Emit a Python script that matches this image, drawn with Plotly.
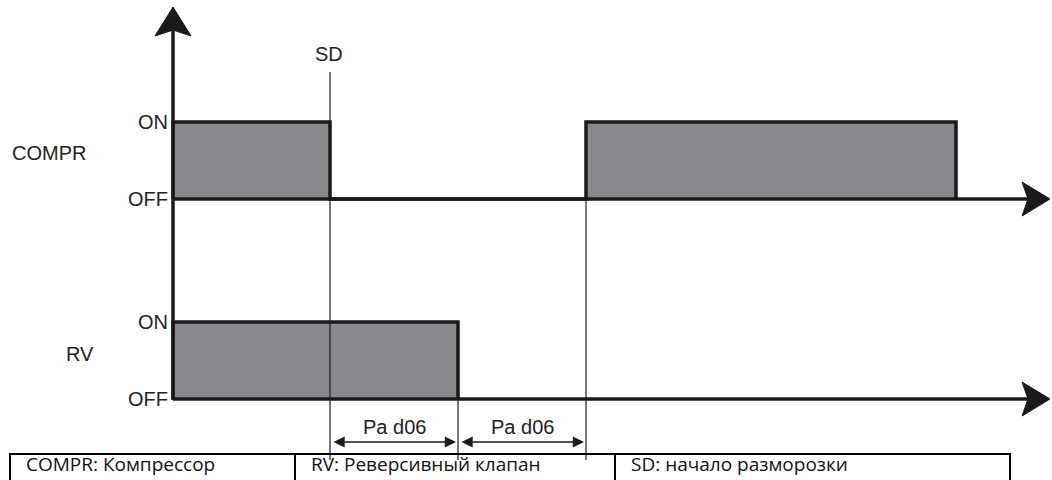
import plotly.graph_objects as go

# ---- data (time units ~ pixels, origin at the vertical axis) ----
channels = ["COMPR", "RV"]
compr_on_intervals = [(0, 157), (413, 783)]   # COMPR ON periods
rv_on_intervals = [(0, 285)]                  # RV ON periods
sd_time = 157                                 # defrost start
rv_off_time = 285
compr_restart_time = 413
time_end = 877
level_labels = ["ON", "OFF"]
delay_label = "Pa d06"
delay_spans = [(sd_time, rv_off_time), (rv_off_time, compr_restart_time)]
legend_texts = ["COMPR: Компрессор", "RV: Реверсивный клапан", "SD: начало разморозки"]

# ---- layout constants (pixels) ----
X0 = 173                # pixel x of time 0
base_y = {"COMPR": 199, "RV": 399}
amp = 77
fill_col = "#87888c"
ink = "#1a1a1a"
LABEL_FONT = dict(family="Liberation Sans, Arial", size=20, color="#222")

def px(t):
    return X0 + t

fig = go.Figure()
shapes = []
annotations = []

def add_signal(name, intervals):
    b = base_y[name]
    top = b - amp
    for (a, e) in intervals:
        fig.add_trace(go.Scatter(x=[px(a), px(e), px(e), px(a), px(a)],
                                 y=[b, b, top, top, b], mode="lines",
                                 fill="toself", fillcolor=fill_col,
                                 line=dict(width=0), hoverinfo="skip", showlegend=False))
    xs, ys = [], []
    for (a, e) in intervals:
        xs += [px(a), px(a), px(e), px(e)]
        ys += [b, top, top, b]
    fig.add_trace(go.Scatter(x=xs, y=ys, mode="lines",
                             line=dict(color=ink, width=3.5),
                             hoverinfo="skip", showlegend=False))
    fig.add_trace(go.Scatter(x=[px(0), px(time_end) - 20], y=[b, b], mode="lines",
                             line=dict(color=ink, width=3.5),
                             hoverinfo="skip", showlegend=False))
    tip = px(time_end)
    fig.add_trace(go.Scatter(x=[tip, tip - 28, tip - 22, tip - 28, tip],
                             y=[b, b - 17, b, b + 17, b], mode="lines",
                             fill="toself", fillcolor=ink, line=dict(color=ink, width=1),
                             hoverinfo="skip", showlegend=False))
    annotations.append(dict(x=px(0) - 3, y=top, text=level_labels[0], xanchor="right",
                            yanchor="middle", showarrow=False, font=LABEL_FONT))
    annotations.append(dict(x=px(0) - 3, y=b, text=level_labels[1], xanchor="right",
                            yanchor="middle", showarrow=False, font=LABEL_FONT))

add_signal("COMPR", compr_on_intervals)
add_signal("RV", rv_on_intervals)

annotations.append(dict(x=10, y=153, text="COMPR", xanchor="left", yanchor="middle",
                        showarrow=False, font=LABEL_FONT))
annotations.append(dict(x=64, y=354, text="RV", xanchor="left", yanchor="middle",
                        showarrow=False, font=LABEL_FONT))

# vertical axis
fig.add_trace(go.Scatter(x=[px(0), px(0)], y=[base_y["RV"] + 1, 30], mode="lines",
                         line=dict(color=ink, width=3.5), hoverinfo="skip", showlegend=False))
fig.add_trace(go.Scatter(x=[px(0), px(0) - 18, px(0), px(0) + 18, px(0)],
                         y=[7, 36, 30, 36, 7], mode="lines", fill="toself", fillcolor=ink,
                         line=dict(color=ink, width=1), hoverinfo="skip", showlegend=False))

# event lines
fig.add_trace(go.Scatter(x=[px(sd_time), px(sd_time)], y=[72, 460], mode="lines",
                         line=dict(color=ink, width=1.2), hoverinfo="skip", showlegend=False))
fig.add_trace(go.Scatter(x=[px(rv_off_time), px(rv_off_time)], y=[base_y["RV"], 460], mode="lines",
                         line=dict(color=ink, width=1.2), hoverinfo="skip", showlegend=False))
fig.add_trace(go.Scatter(x=[px(compr_restart_time), px(compr_restart_time)],
                         y=[base_y["COMPR"], 460], mode="lines",
                         line=dict(color=ink, width=1.2), hoverinfo="skip", showlegend=False))
annotations.append(dict(x=px(sd_time) - 1, y=54, text="SD", xanchor="center", yanchor="middle",
                        showarrow=False, font=LABEL_FONT))

# delay dimension arrows
for (a, e) in delay_spans:
    annotations.append(dict(x=px(e) - 2, y=442, ax=px(a) + 2, ay=442, axref="x", ayref="y",
                            xref="x", yref="y", text="", showarrow=True, arrowhead=2,
                            arrowside="end+start", arrowsize=1.4, arrowwidth=1.6, arrowcolor=ink))
    annotations.append(dict(x=(px(a) + px(e)) / 2, y=427, text=delay_label, xanchor="center",
                            yanchor="middle", showarrow=False, font=LABEL_FONT))

# legend table
cells = [(10, 295), (295, 615), (615, 1010)]
for (l, r), txt in zip(cells, legend_texts):
    shapes.append(dict(type="rect", x0=l, x1=r, y0=454, y1=490, xref="x", yref="y",
                       line=dict(color="#000", width=2), fillcolor="rgba(0,0,0,0)"))
    annotations.append(dict(x=l + 14, y=479, text=txt, xanchor="left", yanchor="bottom",
                            showarrow=False,
                            font=dict(family="Open Sans, Noto Sans", size=19, color="#111")))

fig.update_layout(
    width=1052, height=480, margin=dict(l=0, r=0, t=0, b=0),
    paper_bgcolor="white", plot_bgcolor="white",
    xaxis=dict(range=[0, 1052], visible=False, fixedrange=True),
    yaxis=dict(range=[480, 0], visible=False, fixedrange=True),
    shapes=shapes, annotations=annotations, showlegend=False,
)
fig.write_html("out.html", config={"displayModeBar": False},
               post_script="document.body.style.margin='0';document.body.style.overflow='hidden';")
